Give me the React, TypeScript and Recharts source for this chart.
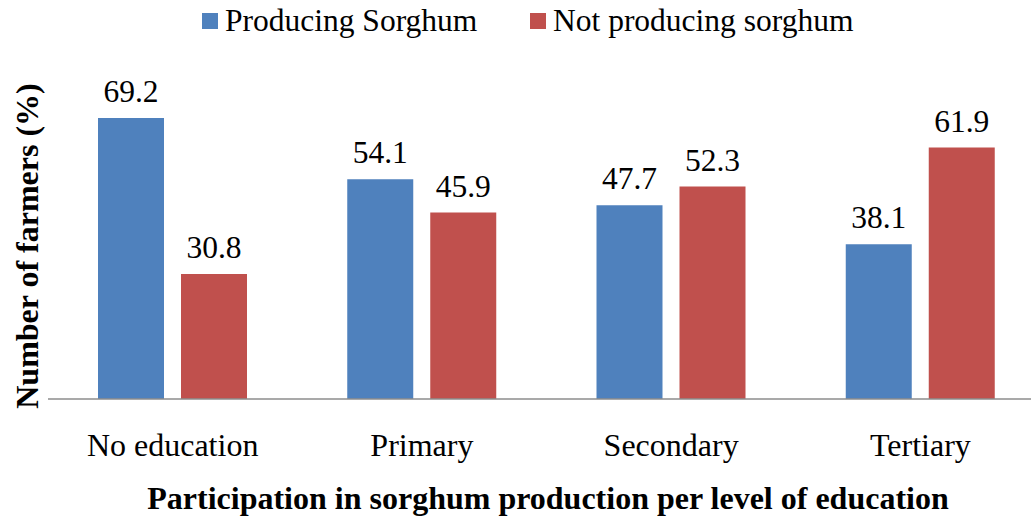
import React from 'react';
import { BarChart, Bar, XAxis, YAxis, Legend, LabelList, Label } from 'recharts';

const levels = ['No education', 'Primary', 'Secondary', 'Tertiary'];
const producing = [69.2, 54.1, 47.7, 38.1];
const notProducing = [30.8, 45.9, 52.3, 61.9];

const data = levels.map((level, i) => ({
  level,
  producing: producing[i],
  notProducing: notProducing[i],
}));

const FONT = "'Liberation Serif', Tinos, 'Times New Roman', Times, 'DejaVu Serif', serif";
const BLUE = '#4F81BD';
const RED = '#C0504D';

const CategoryTick = ({ x, y, payload }: any) => (
  <text x={x} y={y} dy={49} textAnchor="middle" style={{ fontFamily: FONT }} fontSize={32} fill="#000">
    {payload.value}
  </text>
);

const legendItems = [
  { label: 'Producing Sorghum', color: BLUE, left: 202 },
  { label: 'Not producing sorghum', color: RED, left: 530 },
];

const ChartLegend = () => (
  <div style={{ position: 'relative', height: 36, fontFamily: FONT, fontSize: 31.5, color: '#000' }}>
    {legendItems.map((item) => (
      <div key={item.label} style={{ position: 'absolute', left: item.left, top: 0, display: 'flex', alignItems: 'center', height: 36, whiteSpace: 'nowrap' }}>
        <span style={{ width: 16, height: 16, background: item.color, display: 'inline-block', marginRight: 7 }} />
        <span>{item.label}</span>
      </div>
    ))}
  </div>
);

const App = () => {
  return (
    <div style={{ position: 'absolute', left: 0, top: 0, width: 1031, height: 519, overflow: 'hidden', background: '#fff', fontFamily: FONT }}>
      <BarChart width={1050} height={519} data={data} margin={{ top: 74, right: 5, left: 0, bottom: 10 }} barSize={66} barGap={17} style={{ fontFamily: FONT }}>
        <XAxis
          dataKey="level"
          height={110}
          tickLine={false}
          axisLine={{ stroke: '#8C8C8C', strokeWidth: 1.5 }}
          tick={<CategoryTick />}
          interval={0}
        >
          <Label
            content={() => (
              <text x={548} y={509} textAnchor="middle" style={{ fontFamily: FONT }} fontSize={32} fontWeight="bold" fill="#000">
                Participation in sorghum production per level of education
              </text>
            )}
          />
        </XAxis>
        <YAxis width={48} domain={[0, 80]} axisLine={false} tickLine={false} tick={false}>
          <Label
            content={() => (
              <text x={38} y={246} transform="rotate(-90, 38, 246)" textAnchor="middle" style={{ fontFamily: FONT }} fontSize={32} fontWeight="bold" fill="#000">
                Number of farmers (%)
              </text>
            )}
          />
        </YAxis>
        <Legend
          verticalAlign="middle"
          align="center"
          layout="horizontal"
          wrapperStyle={{ top: 3, left: 0, width: 1031 }}
          content={<ChartLegend />}
        />
        <Bar dataKey="producing" name="Producing Sorghum" fill={BLUE} isAnimationActive={false}>
          <LabelList dataKey="producing" position="top" offset={16} style={{ fontFamily: FONT }} fontSize={31.5} fill="#000" />
        </Bar>
        <Bar dataKey="notProducing" name="Not producing sorghum" fill={RED} isAnimationActive={false}>
          <LabelList dataKey="notProducing" position="top" offset={16} style={{ fontFamily: FONT }} fontSize={31.5} fill="#000" />
        </Bar>
      </BarChart>
    </div>
  );
};

export default App;
